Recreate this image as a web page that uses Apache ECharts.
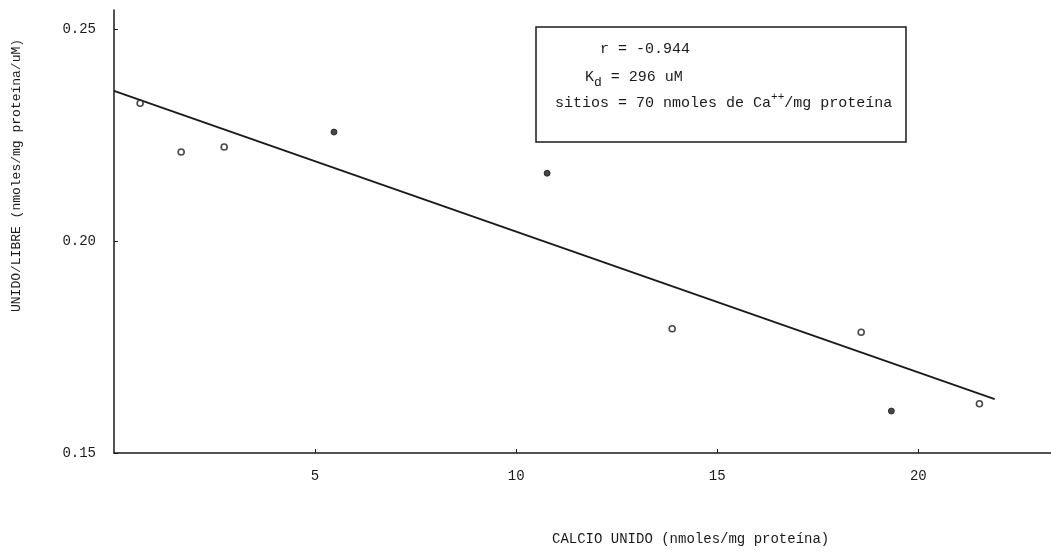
<!DOCTYPE html>
<html>
<head>
<meta charset="utf-8">
<script src="https://cdn.jsdelivr.net/npm/echarts@6/dist/echarts.min.js"></script>
<style>
  html, body { margin: 0; padding: 0; background: #fff; }
  #chart { width: 1051px; height: 552px; }
</style>
</head>
<body>
<div id="chart"></div>
<script>
// calcio unido vs unido/libre (Scatchard)

var openPts = [
  [0.65, 0.2325],
  [1.67, 0.2210],
  [2.74, 0.2222],
  [13.88, 0.1793],
  [18.58, 0.1785],
  [21.52, 0.1616]
];
var filledPts = [
  [5.47, 0.2257],
  [10.77, 0.2160],
  [19.33, 0.1599]
];
var fitX = [0, 21.9];
var fitY = [0.2354, 0.1627];
var xTicks = [5, 10, 15, 20];
var yTicks = [0.15, 0.20, 0.25];

var font = "'Liberation Mono', monospace";
var ink = '#1a1a1a';

var chart = echarts.init(document.getElementById('chart'));

var fitData = fitX.map(function (x, i) { return [x, fitY[i]]; });

var option = {
  backgroundColor: '#fff',
  animation: false,
  grid: { left: 114, top: 10, width: 937, height: 443 },
  xAxis: {
    type: 'value',
    min: 0,
    max: 23.3,
    axisLine: { show: true, lineStyle: { color: ink, width: 1.5 } },
    axisTick: { show: true, inside: true, length: 4, customValues: xTicks, lineStyle: { color: ink } },
    axisLabel: {
      customValues: xTicks,
      color: ink, fontFamily: font, fontSize: 14, margin: 16
    },
    splitLine: { show: false }
  },
  yAxis: {
    type: 'value',
    min: 0.15,
    max: 0.2545,
    axisLine: { show: true, lineStyle: { color: ink, width: 1.5 } },
    axisTick: { show: true, inside: true, length: 4, customValues: yTicks, lineStyle: { color: ink } },
    axisLabel: {
      customValues: yTicks,
      color: ink, fontFamily: font, fontSize: 14, margin: 18,
      formatter: function (v) { return v.toFixed(2); }
    },
    splitLine: { show: false }
  },
  graphic: [
    {
      type: 'text', left: 552, top: 532,
      style: { text: 'CALCIO UNIDO (nmoles/mg proteína)', fill: ink, font: '14px ' + font }
    },
    {
      type: 'text', x: 10, y: 312, rotation: Math.PI / 2,
      style: { text: 'UNIDO/LIBRE (nmoles/mg proteína/uM)', fill: ink, font: '13px ' + font }
    },
    {
      type: 'rect', shape: { x: 536, y: 27, width: 370, height: 115 },
      style: { fill: '#fff', stroke: ink, lineWidth: 1.5 }, z: 10
    },
    {
      type: 'text', z: 11, x: 600, y: 49,
      style: {
        text: 'r = -0.944', fill: ink, font: '15px ' + font, verticalAlign: 'middle'
      }
    },
    {
      type: 'text', z: 11, x: 585, y: 77,
      style: {
        text: '{n|K}{sub|d}{n| = 296 uM}', verticalAlign: 'middle',
        rich: {
          n: { fill: ink, font: '15px ' + font },
          sub: { fill: ink, font: '13px ' + font, padding: [11, 0, 0, 0] }
        }
      }
    },
    {
      type: 'text', z: 11, x: 555, y: 103,
      style: {
        text: '{n|sitios = 70 nmoles de Ca}{sup|++}{n|/mg proteína}', verticalAlign: 'middle',
        rich: {
          n: { fill: ink, font: '15px ' + font },
          sup: { fill: ink, font: '11px ' + font, padding: [0, 0, 11, 0] }
        }
      }
    }
  ],
  series: [
    {
      type: 'line',
      data: fitData,
      symbol: 'none',
      lineStyle: { color: ink, width: 1.8 },
      z: 2
    },
    {
      type: 'scatter',
      data: openPts,
      symbol: 'circle',
      symbolSize: 6,
      itemStyle: { color: '#fff', borderColor: ink, borderWidth: 1.6 },
      z: 3
    },
    {
      type: 'scatter',
      data: filledPts,
      symbol: 'circle',
      symbolSize: 6,
      itemStyle: { color: ink, borderColor: ink, borderWidth: 1 },
      z: 3
    }
  ]
};

chart.setOption(option);
</script>
</body>
</html>
